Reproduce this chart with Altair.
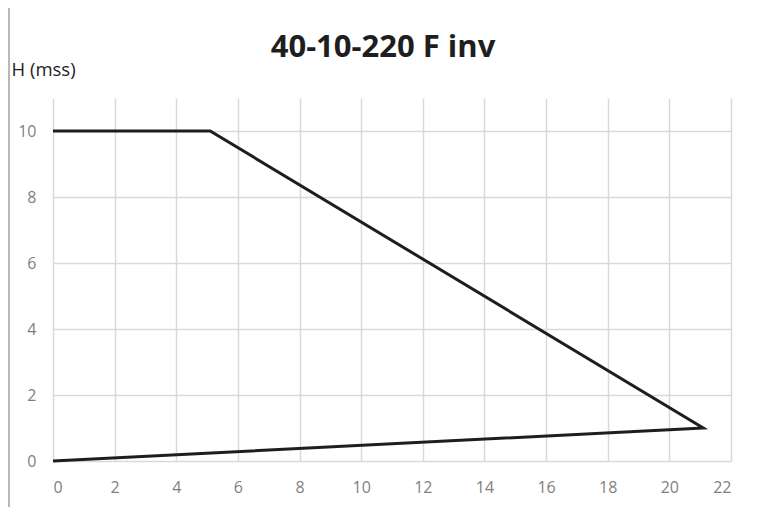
import altair as alt
import pandas as pd

# Curve points (flow Q, head H)
q_vals = [0, 5.1, 21.1, 0]
h_vals = [10, 10, 1, 0]
order = [0, 1, 2, 3]

x_ticks = [0, 2, 4, 6, 8, 10, 12, 14, 16, 18, 20, 22]
y_ticks = [0, 2, 4, 6, 8, 10]

title_text = ["40-10-220 F inv"]

df = pd.DataFrame({"Q": q_vals, "H": h_vals, "o": order})

W, H = 678, 363

base = alt.Chart(df)

line = base.mark_line(color="#1e1e1e", strokeWidth=3, clip=False).encode(
    x=alt.X("Q:Q", scale=alt.Scale(domain=[0, 22], nice=False),
            axis=alt.Axis(values=x_ticks, title=None, domain=False, ticks=False,
                          labelPadding=18, labelFontSize=16, labelColor="#7f7f7f",
                          labelFont="Open Sans", gridColor="#d9d9d9", gridWidth=1.5)),
    y=alt.Y("H:Q", scale=alt.Scale(domain=[0, 11], nice=False),
            axis=alt.Axis(values=y_ticks, title="H (mss)", titleAngle=0, titleAlign="left",
                          titleX=-42, titleY=-19, titleFont="Open Sans", titleFontSize=18.5,
                          titleFontWeight="normal", titleColor="#222222",
                          domain=False, ticks=False,
                          labelPadding=17, labelFontSize=16, labelColor="#7f7f7f",
                          labelFont="Open Sans", gridColor="#d9d9d9", gridWidth=1.5)),
    order="o:Q",
)

title = alt.Chart(pd.DataFrame({"t": title_text})).mark_text(
    font="Open Sans", fontSize=31, fontWeight="bold", color="#1e1e1e",
    align="center", baseline="alphabetic"
).encode(text="t:N", x=alt.value(330), y=alt.value(-41))

border = alt.Chart(pd.DataFrame({"a": [0]})).mark_rule(color="#a0a0a0", strokeWidth=1.5).encode(
    x=alt.value(-44), y=alt.value(-90), y2=alt.value(H + 46)
)

chart = alt.layer(border, line, title).properties(
    width=W, height=H,
    autosize=alt.AutoSizeParams(type="none"),
    padding={"left": 45, "top": 90, "right": 18, "bottom": 46},
).configure_view(stroke=None)

chart.save("out.html", embed_options={"renderer": "svg", "actions": False})
